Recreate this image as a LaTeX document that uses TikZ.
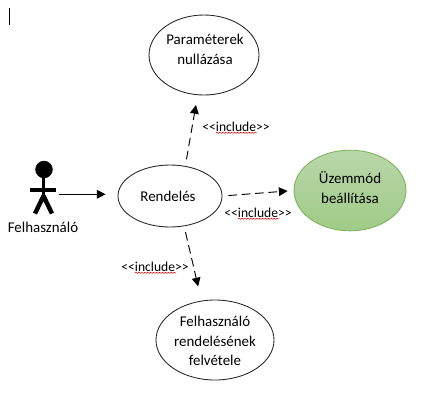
\documentclass[tikz,border=0pt]{standalone}
\usepackage{fontspec}
\setmainfont{Carlito}
\usetikzlibrary{arrows.meta,decorations.pathmorphing,shapes.geometric}
\definecolor{usegreenT}{HTML}{B9D7AA}
\definecolor{usegreenB}{HTML}{A0CB87}
\definecolor{usegreenE}{HTML}{7CB35C}
\tikzset{
usecase/.style={shape=ellipse, draw=black!85, line width=.65pt, inner sep=0pt},
usetext/.style={align=center, inner sep=0pt, font=\fontsize{11.2}{14.8}\selectfont},
dep/.style={-{Triangle[length=6.5pt,width=6.5pt]}, line width=.7pt, dash pattern=on 6.5pt off 3.5pt},
incl/.style={inner sep=0pt, font=\fontsize{10.2}{12}\selectfont},
squiggle/.style={red!85!black, line width=.4pt, decorate, decoration={snake, amplitude=.4pt, segment length=2.2pt}}
}
\begin{document}
\begin{tikzpicture}[x=.75pt, y=-.75pt]
\useasboundingbox (0,0) rectangle (434,405);
\draw[line width=.75pt] (9,8)--(9,25);
% actor
\draw[fill] (44,169.5) circle (6.3pt);
\draw[line width=2.4pt] (43.5,175)--(43.5,198);
\draw[line width=3.3pt] (30,190)--(56,190);
\draw[line width=3.3pt] (43.5,196)--(35,213.5) (43.5,196)--(52,213.5);
\node[usetext] (felh) at (43,227) {Felhasználó};
\coordinate (actor) at (59,194.3);
% use cases
\node[usecase, minimum width=82.5pt, minimum height=60pt] (param) at (204,55) {};
\node[usetext] (paramtxt) at (205,49) {Paraméterek\\nullázása};
\node[usecase, minimum width=78pt, minimum height=46.5pt] (rend) at (170,196) {};
\node[usetext] (rendtxt) at (168,196.5) {Rendelés};
\node[usecase, minimum width=84pt, minimum height=60.5pt, draw=usegreenE, top color=usegreenT, bottom color=usegreenB] (uzem) at (350,190.5) {};
\node[usetext] (uzemtxt) at (350,187.5) {Üzemmód\\beállítása};
\node[usecase, minimum width=88.5pt, minimum height=60pt] (felv) at (215,340) {};
\node[usetext] (felvtxt) at (215,341) {Felhasználó\\rendelésének\\felvétele};
% connectors
\draw[-{Triangle[length=6.5pt,width=6.5pt]}, line width=.7pt, shorten >=9pt] (actor)--(rend.west|-actor);
\draw[dep, shorten <=5pt, shorten >=7.5pt] (rend.63)--(param.-99.6);
\draw[dep, shorten <=4.5pt, shorten >=4.5pt] (rend.east)--(uzem.west);
\draw[dep, shorten <=4.5pt, shorten >=11pt] (rend.-65)--(felv.109.5);
% labels
\node[incl] (inclA) at (236,127) {<{}<include>{}>};
\node[incl] (inclB) at (258,213) {<{}<include>{}>};
\node[incl] (inclC) at (155,267) {<{}<include>{}>};
\foreach \n in {inclA,inclB,inclC}
\draw[squiggle] ([xshift=10.5pt,yshift=-.6pt]\n.south west)--([xshift=-9.5pt,yshift=-.6pt]\n.south east);
\end{tikzpicture}
\end{document}
